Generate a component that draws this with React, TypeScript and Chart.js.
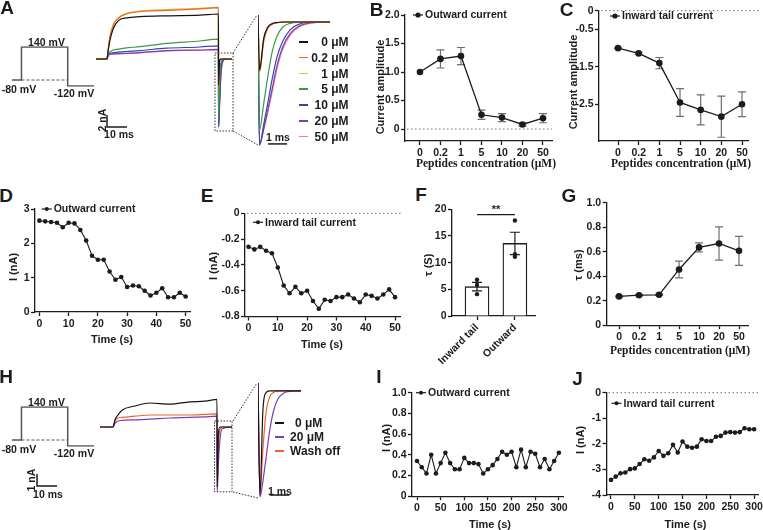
import React, { useEffect, useRef } from "react";
import { Chart, registerables } from "chart.js";

Chart.register(...registerables);

const SANS = "'Liberation Sans', Arial, Helvetica, sans-serif";
const SERIF = "'Liberation Serif', 'Times New Roman', Times, serif";
const INK = "#1c1c1c";

// ---------------- data ----------------
const concLabels = ["0", "0.2", "1", "5", "10", "20", "50"];
const outwardAmp = [1.0, 1.23, 1.28, 0.25, 0.2, 0.08, 0.19];
const outwardAmpErr = [0, 0.16, 0.15, 0.08, 0.07, 0.03, 0.08];
const tailAmp = [-1.0, -1.14, -1.4, -2.45, -2.65, -2.83, -2.5];
const tailAmpErr = [0.01, 0.03, 0.15, 0.37, 0.4, 0.55, 0.33];
const tauTail = [0.235, 0.245, 0.248, 0.455, 0.635, 0.667, 0.607];
const tauTailErr = [0.005, 0.005, 0.005, 0.068, 0.037, 0.136, 0.118];

const timeD = [0, 2, 4, 6, 8, 10, 12, 14, 16, 18, 20, 22, 24, 26, 28, 30, 32, 34, 36, 38, 40, 42, 44, 46, 48, 50];
const outwardD = [2.66, 2.64, 2.62, 2.6, 2.47, 2.6, 2.58, 2.39, 2.08, 1.64, 1.52, 1.52, 1.18, 0.94, 1.02, 0.73, 0.77, 0.75, 0.62, 0.48, 0.56, 0.69, 0.43, 0.43, 0.56, 0.45];
const tailE = [-0.26, -0.28, -0.26, -0.29, -0.31, -0.42, -0.56, -0.62, -0.57, -0.62, -0.6, -0.68, -0.74, -0.67, -0.68, -0.65, -0.65, -0.63, -0.66, -0.69, -0.63, -0.64, -0.66, -0.63, -0.59, -0.65];
const timeTicks50 = [0, 10, 20, 30, 40, 50];

const fCats = ["Inward tail", "Outward"];
const fMeans = [5.5, 13.6];
const fErr = [0.8, 2.1];
const fPtsX = [0, 0, 0, 1, 1, 1];
const fPtsY = [6.8, 5.8, 4.1, 17.9, 11.6, 11.1];
const fSigLevel = 19;
const fSigText = "**";

const timeIJ = [0, 10, 20, 30, 40, 50, 60, 70, 80, 90, 100, 110, 120, 130, 140, 150, 160, 170, 180, 190, 200, 210, 220, 230, 240, 250, 260, 270, 280, 290, 300];
const outwardI = [0.34, 0.28, 0.22, 0.4, 0.22, 0.32, 0.42, 0.32, 0.26, 0.26, 0.37, 0.32, 0.32, 0.31, 0.22, 0.26, 0.3, 0.36, 0.43, 0.4, 0.43, 0.28, 0.45, 0.28, 0.43, 0.41, 0.28, 0.36, 0.26, 0.34, 0.42];
const tailJ = [-3.41, -3.28, -3.15, -3.12, -2.99, -2.96, -2.79, -2.6, -2.66, -2.53, -2.28, -2.47, -2.37, -2.04, -2.34, -1.91, -2.11, -2.15, -2.11, -1.82, -1.89, -1.89, -1.72, -1.69, -1.56, -1.54, -1.56, -1.54, -1.39, -1.43, -1.43];
const timeTicks300 = [0, 50, 100, 150, 200, 250, 300];

// voltage protocol (schematic)
const protoT = [0, 9, 9, 53, 53, 78];
const protoV = [-80, -80, 140, 140, -120, -120];
const holdT = [9, 53];
const holdV = [-80, -80];

// A traces (ms, nA)
const concNamesA = ["0 μM", "0.2 μM", "1 μM", "5 μM", "10 μM", "20 μM", "50 μM"];
const traceT_A = [0, 5.5, 6, 7, 8.7, 11.2, 15.3, 22, 35.3, 52, 61.2, 61.3, 61.8, 62.5, 63.5, 64.5, 68];
const trA_0 = [0, 0, 1.2, 3.2, 5.1, 6.4, 6.85, 7.05, 7.2, 7.3, 7.5, -4.4, -0.2, 0, 0, 0, 0];
const trA_02 = [0, 0, 1.3, 3.7, 5.7, 6.8, 7.5, 7.9, 8.1, 8.35, 8.55, -4.6, -0.25, -0.01, 0, 0, 0];
const trA_1 = [0, 0, 1.3, 3.8, 5.8, 6.9, 7.6, 8.0, 8.25, 8.45, 8.6, -4.5, -0.22, 0, 0, 0, 0];
const trA_5 = [0, 0, 0.9, 1.2, 1.5, 1.65, 1.85, 2.05, 2.6, 3.0, 3.3, -9.9, -4.2, -0.48, -0.02, 0, 0];
const trA_10 = [0, 0, 0.6, 0.95, 1.05, 1.15, 1.25, 1.4, 1.8, 2.0, 2.2, -11.3, -6.8, -1.8, -0.18, -0.02, 0];
const trA_20 = [0, 0, 0.5, 0.8, 0.85, 0.9, 0.95, 1.05, 1.4, 1.5, 1.6, -11.3, -7.5, -2.3, -0.3, -0.05, 0];
const trA_50 = [0, 0, 0.45, 0.75, 0.8, 0.85, 0.9, 1.0, 1.35, 1.45, 1.55, -11.2, -7.8, -2.5, -0.4, -0.07, 0];
const insetT_A = [0, 0.08, 0.3, 0.5, 0.75, 1.0, 1.3, 1.7, 2.2, 2.8, 3.8];
const inA_0 = [0.64, -4.4, -1.5, -0.5, -0.15, -0.05, 0, 0, 0, 0, 0];
const inA_02 = [0.64, -4.6, -1.8, -0.65, -0.2, -0.07, -0.02, 0, 0, 0, 0];
const inA_1 = [0.64, -4.5, -1.6, -0.55, -0.17, -0.05, 0, 0, 0, 0, 0];
const inA_5 = [0.64, -9.9, -7.5, -5.2, -2.7, -1.3, -0.48, -0.12, -0.03, 0, 0];
const inA_10 = [0.64, -11.3, -9.4, -7.6, -5.2, -3.2, -1.8, -0.7, -0.18, -0.02, 0];
const inA_20 = [0.64, -11.3, -9.8, -8.2, -6.1, -4.0, -2.3, -1.05, -0.35, -0.07, 0];
const inA_50 = [0.64, -11.2, -9.9, -8.4, -6.4, -4.3, -2.5, -1.2, -0.42, -0.1, 0];

// H traces
const namesH = ["0 μM", "20 μM", "Wash off"];
const traceT_H = [0, 6.5, 7.5, 9, 11, 17.5, 25, 35, 45, 52.5, 58.5, 58.6, 59.2, 60, 61, 66];
const trH_0 = [0, 0, 0.6, 1.0, 1.4, 1.75, 2.0, 1.9, 2.1, 2.15, 2.3, -5.0, -0.5, 0, 0, 0];
const trH_20 = [0, 0, 0.3, 0.5, 0.55, 0.6, 0.65, 0.75, 0.8, 0.85, 0.9, -5.4, -3.0, -1.0, -0.15, 0];
const trH_w = [0, 0, 0.5, 0.75, 0.8, 0.9, 1.0, 1.0, 1.0, 1.05, 1.1, -5.2, -1.5, -0.2, 0, 0];
const insetT_H = [0, 0.1, 0.25, 0.4, 0.6, 0.8, 1.0, 1.3, 1.7, 2.2];
const inH_0 = [0.4, -5.3, -1.0, -0.1, 0, 0, 0, 0, 0, 0];
const inH_20 = [0.4, -5.4, -4.6, -3.5, -2.0, -1.0, -0.45, -0.12, -0.02, 0];
const inH_w = [0.4, -5.3, -3.0, -1.2, -0.3, -0.08, 0, 0, 0, 0];

// ---------------- styles ----------------
const colorsA = ["#151515", "#f0642a", "#c8cc3c", "#3c9a46", "#3347b0", "#7d3cb5", "#f0808a"];
const colorsH = ["#151515", "#7d3cb5", "#f0642a"];

// ---------------- helpers ----------------
type Pad = { left: number; right: number; top: number; bottom: number };

function baseOptions(pad: Pad, scales: any): any {
  return {
    responsive: false,
    maintainAspectRatio: false,
    animation: false,
    devicePixelRatio: 1,
    events: [],
    layout: { padding: pad },
    plugins: { legend: { display: false }, tooltip: { enabled: false } },
    scales,
  };
}

type AxisOpt = {
  min: number;
  max: number;
  ticks: number[];
  fmt: (v: number) => string;
  size: number;
  horizontal: boolean;
  rotate?: number;
};

function axis(o: AxisOpt): any {
  return {
    type: "linear",
    min: o.min,
    max: o.max,
    offset: false,
    afterBuildTicks: (s: any) => {
      s.ticks = o.ticks.map((v) => ({ value: v }));
    },
    afterFit: (s: any) => {
      if (o.horizontal) {
        s.height = o.size;
        s.paddingLeft = 0;
        s.paddingRight = 0;
      } else {
        s.width = o.size;
        s.paddingTop = 0;
        s.paddingBottom = 0;
      }
    },
    grid: {
      display: true,
      offset: false,
      drawOnChartArea: false,
      drawTicks: true,
      tickLength: 4,
      tickColor: INK,
      tickWidth: 1.3,
      color: INK,
    },
    border: { display: true, color: INK, width: 1.3 },
    ticks: {
      autoSkip: false,
      maxRotation: o.rotate ?? 0,
      minRotation: o.rotate ?? 0,
      padding: 1.5,
      color: INK,
      font: { family: SANS, size: 10.5, weight: "bold" },
      callback: (v: any) => o.fmt(Number(v)),
    },
  };
}

const fmtDec = (v: number) => (v === 0 ? "0" : v.toFixed(1));
const fmtInt = (v: number) => String(v);
const idx = (arr: any[]) => arr.map((_, i) => i);

function pointDS(label: string, xs: number[], ys: number[], r: number, lw: number): any {
  return {
    label,
    data: xs.map((x, i) => ({ x, y: ys[i] })),
    borderColor: INK,
    backgroundColor: INK,
    pointBackgroundColor: INK,
    pointBorderWidth: 0,
    borderWidth: lw,
    pointRadius: r,
    tension: 0,
    fill: false,
  };
}

function zeroLine(ext: number): any {
  return {
    id: "zeroLine",
    beforeDatasetsDraw(c: any) {
      const { ctx, chartArea: a } = c;
      const y = c.scales.y.getPixelForValue(0);
      ctx.save();
      ctx.strokeStyle = "#6a6a6a";
      ctx.lineWidth = 1;
      ctx.setLineDash([1.5, 2.5]);
      ctx.beginPath();
      ctx.moveTo(a.left + 2, y);
      ctx.lineTo(a.right + ext, y);
      ctx.stroke();
      ctx.restore();
    },
  };
}

function errorBars(xs: number[], means: number[], errs: number[], cap: number, color: string, after: boolean): any {
  const draw = (c: any) => {
    const { ctx } = c;
    const sx = c.scales.x;
    const sy = c.scales.y;
    ctx.save();
    ctx.strokeStyle = color;
    ctx.lineWidth = 1.2;
    ctx.setLineDash([]);
    xs.forEach((x, i) => {
      if (!errs[i]) return;
      const px = sx.getPixelForValue(x);
      const y1 = sy.getPixelForValue(means[i] + errs[i]);
      const y2 = sy.getPixelForValue(means[i] - errs[i]);
      ctx.beginPath();
      ctx.moveTo(px, y1);
      ctx.lineTo(px, y2);
      ctx.moveTo(px - cap, y1);
      ctx.lineTo(px + cap, y1);
      ctx.moveTo(px - cap, y2);
      ctx.lineTo(px + cap, y2);
      ctx.stroke();
    });
    ctx.restore();
  };
  return after ? { id: "errorBars", afterDatasetsDraw: draw } : { id: "errorBars", beforeDatasetsDraw: draw };
}

function inLegend(dx: number, dy: number, r: number): any {
  return {
    id: "inLegend",
    afterDraw(c: any) {
      const { ctx, chartArea: a } = c;
      const label = c.data.datasets[0].label;
      const x0 = a.left + dx;
      const y = a.top + dy;
      ctx.save();
      ctx.strokeStyle = INK;
      ctx.fillStyle = INK;
      ctx.lineWidth = 1.2;
      ctx.beginPath();
      ctx.moveTo(x0, y);
      ctx.lineTo(x0 + 10, y);
      ctx.stroke();
      ctx.beginPath();
      ctx.arc(x0 + 5, y, r, 0, Math.PI * 2);
      ctx.fill();
      ctx.font = `bold 10.5px ${SANS}`;
      ctx.textBaseline = "middle";
      ctx.textAlign = "left";
      ctx.fillText(label, x0 + 12, y + 0.5);
      ctx.restore();
    },
  };
}

function sigBar(x0: number, x1: number, level: number, text: string): any {
  return {
    id: "sigBar",
    afterDatasetsDraw(c: any) {
      const { ctx } = c;
      const px0 = c.scales.x.getPixelForValue(x0);
      const px1 = c.scales.x.getPixelForValue(x1);
      const py = c.scales.y.getPixelForValue(level);
      ctx.save();
      ctx.strokeStyle = INK;
      ctx.lineWidth = 1.2;
      ctx.beginPath();
      ctx.moveTo(px0, py);
      ctx.lineTo(px1, py);
      ctx.stroke();
      ctx.fillStyle = INK;
      ctx.font = `bold 11px ${SANS}`;
      ctx.textAlign = "center";
      ctx.textBaseline = "bottom";
      ctx.fillText(text, (px0 + px1) / 2, py + 1);
      ctx.restore();
    },
  };
}

function dottedBox(t0: number, t1: number, v0: number, v1: number): any {
  return {
    id: "dottedBox",
    afterDatasetsDraw(c: any) {
      const { ctx } = c;
      const sx = c.scales.x;
      const sy = c.scales.y;
      const x0 = sx.getPixelForValue(t0);
      const x1 = sx.getPixelForValue(t1);
      const y0 = sy.getPixelForValue(v0);
      const y1 = sy.getPixelForValue(v1);
      ctx.save();
      ctx.strokeStyle = "#333";
      ctx.lineWidth = 1;
      ctx.setLineDash([1.5, 1.5]);
      ctx.strokeRect(Math.min(x0, x1), Math.min(y0, y1), Math.abs(x1 - x0), Math.abs(y1 - y0));
      ctx.restore();
    },
  };
}

function scaleBar(t0: number, v0: number, dt: number, dv: number): any {
  return {
    id: "scaleBar",
    afterDatasetsDraw(c: any) {
      const { ctx } = c;
      const sx = c.scales.x;
      const sy = c.scales.y;
      const x0 = sx.getPixelForValue(t0);
      const y0 = sy.getPixelForValue(v0);
      ctx.save();
      ctx.strokeStyle = INK;
      ctx.lineWidth = 1.5;
      ctx.beginPath();
      if (dv) {
        ctx.moveTo(x0, sy.getPixelForValue(v0 + dv));
        ctx.lineTo(x0, y0);
      } else {
        ctx.moveTo(x0, y0);
      }
      ctx.lineTo(sx.getPixelForValue(t0 + dt), y0);
      ctx.stroke();
      ctx.restore();
    },
  };
}

function connectors(segs: number[][]): any {
  return {
    id: "connectors",
    afterDraw(c: any) {
      const { ctx } = c;
      ctx.save();
      ctx.strokeStyle = "#333";
      ctx.lineWidth = 1;
      ctx.setLineDash([1.5, 1.5]);
      segs.forEach((s) => {
        ctx.beginPath();
        ctx.moveTo(s[0], s[1]);
        ctx.lineTo(s[2], s[3]);
        ctx.stroke();
      });
      ctx.restore();
    },
  };
}

function traceConfig(T: number[], series: number[][], colors: string[], xr: number[], yr: number[], pad: Pad, plugins: any[]): any {
  return {
    type: "line",
    data: {
      datasets: series.map((ys, k) => ({
        data: T.map((t, i) => ({ x: t, y: ys[i] })),
        borderColor: colors[k],
        borderWidth: 1.2,
        pointRadius: 0,
        cubicInterpolationMode: "monotone",
        fill: false,
      })),
    },
    options: baseOptions(pad, {
      x: { type: "linear", display: false, min: xr[0], max: xr[1] },
      y: { type: "linear", display: false, min: yr[0], max: yr[1] },
    }),
    plugins,
  };
}

function protocolConfig(pad: Pad): any {
  return {
    type: "line",
    data: {
      datasets: [
        {
          data: protoT.map((t, i) => ({ x: t, y: protoV[i] })),
          borderColor: "#555",
          borderWidth: 1.5,
          pointRadius: 0,
          tension: 0,
          fill: false,
        },
        {
          data: holdT.map((t, i) => ({ x: t, y: holdV[i] })),
          borderColor: "#555",
          borderWidth: 1.2,
          borderDash: [3, 2],
          pointRadius: 0,
          tension: 0,
          fill: false,
        },
      ],
    },
    options: baseOptions(pad, {
      x: { type: "linear", display: false, min: 0, max: 78 },
      y: { type: "linear", display: false, min: -125, max: 145 },
    }),
  };
}

// ---------------- components ----------------
function ChartBox({ x, y, w, h, make }: { x: number; y: number; w: number; h: number; make: () => any }) {
  const ref = useRef<HTMLCanvasElement>(null);
  useEffect(() => {
    const chart = new Chart(ref.current as HTMLCanvasElement, make());
    return () => chart.destroy();
  }, []);
  return (
    <canvas
      ref={ref}
      width={w}
      height={h}
      style={{ position: "absolute", left: x, top: y, width: w, height: h }}
    />
  );
}

function Txt({
  x,
  y,
  children,
  size = 10.5,
  rot = 0,
  align = "center",
  family = SANS,
  weight = "bold",
  color = INK,
}: {
  x: number;
  y: number;
  children: any;
  size?: number;
  rot?: number;
  align?: "center" | "left" | "right";
  family?: string;
  weight?: string;
  color?: string;
}) {
  const tx = align === "center" ? "-50%" : align === "left" ? "0" : "-100%";
  return (
    <div
      style={{
        position: "absolute",
        left: x,
        top: y,
        transform: `translate(${tx}, -50%) rotate(${rot}deg)`,
        whiteSpace: "nowrap",
        fontFamily: family,
        fontWeight: weight as any,
        fontSize: size,
        lineHeight: 1,
        color,
        zIndex: 2,
      }}
    >
      {children}
    </div>
  );
}

// ---------------- chart factories ----------------
const makeB = () => ({
  type: "line",
  data: { datasets: [pointDS("Outward current", idx(concLabels), outwardAmp, 3.3, 1.3)] },
  options: baseOptions(
    { left: 0, top: 10, right: 10, bottom: 0 },
    {
      x: axis({ horizontal: true, min: -0.73, max: 6.44, ticks: idx(concLabels), fmt: (v) => concLabels[v], size: 20 }),
      y: axis({ horizontal: false, min: -0.21, max: 2.0, ticks: [0, 0.5, 1, 1.5, 2], fmt: fmtDec, size: 25 }),
    }
  ),
  plugins: [zeroLine(0), errorBars(idx(concLabels), outwardAmp, outwardAmpErr, 4, "#6e6e6e", false), inLegend(8, 0, 2.6)],
});

const makeC = () => ({
  type: "line",
  data: { datasets: [pointDS("Inward tail current", idx(concLabels), tailAmp, 3.3, 1.3)] },
  options: baseOptions(
    { left: 0, top: 9.7, right: 15, bottom: 0 },
    {
      x: axis({ horizontal: true, min: -0.92, max: 6.29, ticks: idx(concLabels), fmt: (v) => concLabels[v], size: 20 }),
      y: axis({ horizontal: false, min: -3.48, max: 0, ticks: [0, -0.5, -1.5, -2.5], fmt: fmtDec, size: 27 }),
    }
  ),
  plugins: [zeroLine(12), errorBars(idx(concLabels), tailAmp, tailAmpErr, 4, "#6e6e6e", false), inLegend(11, 5.3, 2.6)],
});

const makeD = () => ({
  type: "line",
  data: { datasets: [pointDS("Outward current", timeD, outwardD, 2.3, 1.1)] },
  options: baseOptions(
    { left: 0, top: 9, right: 10, bottom: 0 },
    {
      x: axis({ horizontal: true, min: -1.5, max: 51.5, ticks: timeTicks50, fmt: fmtInt, size: 20 }),
      y: axis({ horizontal: false, min: 0, max: 3, ticks: [0, 1, 2, 3], fmt: fmtInt, size: 20 }),
    }
  ),
  plugins: [inLegend(6.7, 0, 2)],
});

const makeE = () => ({
  type: "line",
  data: { datasets: [pointDS("Inward tail current", timeD, tailE, 2.3, 1.1)] },
  options: baseOptions(
    { left: 0, top: 9.3, right: 10, bottom: 0 },
    {
      x: axis({ horizontal: true, min: -1.2, max: 51.7, ticks: timeTicks50, fmt: fmtInt, size: 20.5 }),
      y: axis({ horizontal: false, min: -0.8, max: 0, ticks: [0, -0.2, -0.4, -0.6, -0.8], fmt: fmtDec, size: 25 }),
    }
  ),
  plugins: [zeroLine(2), inLegend(8, 9, 2)],
});

const makeF = () => ({
  type: "bar",
  data: {
    datasets: [
      {
        type: "scatter",
        data: fPtsX.map((x, i) => ({ x, y: fPtsY[i] })),
        pointRadius: 2.2,
        pointBorderWidth: 0,
        pointBackgroundColor: INK,
        backgroundColor: INK,
      },
      {
        type: "bar",
        data: fMeans.map((v, i) => ({ x: i, y: v })),
        backgroundColor: "#ffffff",
        borderColor: INK,
        borderWidth: 1.3,
        barThickness: 24,
      },
    ],
  },
  options: baseOptions(
    { left: 0, top: 9.3, right: 10, bottom: 0 },
    {
      x: axis({ horizontal: true, min: -0.66, max: 1.53, ticks: idx(fCats), fmt: (v) => fCats[v], size: 50, rotate: 45 }),
      y: axis({ horizontal: false, min: 0, max: 20, ticks: [0, 5, 10, 15, 20], fmt: fmtInt, size: 22 }),
    }
  ),
  plugins: [errorBars(idx(fCats), fMeans, fErr, 5, INK, true), sigBar(0, 1, fSigLevel, fSigText)],
});

const makeG = () => ({
  type: "line",
  data: { datasets: [pointDS("tau", idx(concLabels), tauTail, 3.3, 1.3)] },
  options: baseOptions(
    { left: 0, top: 8.7, right: 10, bottom: 0 },
    {
      x: axis({ horizontal: true, min: -0.62, max: 6.45, ticks: idx(concLabels), fmt: (v) => concLabels[v], size: 21.8 }),
      y: axis({ horizontal: false, min: 0, max: 1, ticks: [0, 0.2, 0.4, 0.6, 0.8, 1.0], fmt: fmtDec, size: 24.7 }),
    }
  ),
  plugins: [errorBars(idx(concLabels), tauTail, tauTailErr, 4, "#6e6e6e", false)],
});

const makeI = () => ({
  type: "line",
  data: { datasets: [pointDS("Outward current", timeIJ, outwardI, 2.3, 1.1)] },
  options: baseOptions(
    { left: 0, top: 8.7, right: 10, bottom: 0 },
    {
      x: axis({ horizontal: true, min: -10.6, max: 308.7, ticks: timeTicks300, fmt: fmtInt, size: 21.8 }),
      y: axis({ horizontal: false, min: 0, max: 1, ticks: [0, 0.2, 0.4, 0.6, 0.8, 1.0], fmt: fmtDec, size: 22 }),
    }
  ),
  plugins: [inLegend(4, 0, 2)],
});

const makeJ = () => ({
  type: "line",
  data: { datasets: [pointDS("Inward tail current", timeIJ, tailJ, 2.3, 1.1)] },
  options: baseOptions(
    { left: 0, top: 8.7, right: 5, bottom: 0 },
    {
      x: axis({ horizontal: true, min: -9.4, max: 308.2, ticks: timeTicks300, fmt: fmtInt, size: 22 }),
      y: axis({ horizontal: false, min: -4, max: 0, ticks: [0, -1, -2, -3, -4], fmt: fmtInt, size: 21.5 }),
    }
  ),
  plugins: [zeroLine(0), inLegend(5, 10.6, 2)],
});

const makeTraceA = () =>
  traceConfig(
    traceT_A,
    [trA_0, trA_02, trA_1, trA_5, trA_10, trA_20, trA_50],
    colorsA,
    [0, 68],
    [-12, 9.5],
    { left: 6, right: 8, top: 2, bottom: 9 },
    [dottedBox(59.5, 68.5, 1.0, -12), scaleBar(5.5, -11.33, 10, 2)]
  );

const makeInsetA = () =>
  traceConfig(
    insetT_A,
    [inA_0, inA_02, inA_1, inA_5, inA_10, inA_20, inA_50],
    colorsA,
    [0, 3.79],
    [-11.38, 0.642],
    { left: 27, right: 13, top: 15, bottom: 4 },
    [
      scaleBar(0.53, -11.19, 1, 0),
      connectors([
        [2, 53, 26, 15],
        [2, 131, 27, 145],
      ]),
    ]
  );

// H trace canvas spans from x=20 so the scale bar (left, below protocol) is drawn by the same scales
const makeTraceH = () =>
  traceConfig(
    traceT_H,
    [trH_0, trH_20, trH_w],
    colorsH,
    [0, 66],
    [-5.83, 3.5],
    { left: 80, right: 8, top: 7, bottom: 6 },
    [dottedBox(57.25, 66, 0.5, -5.4), scaleBar(-31.5, -4.92, 10, 1)]
  );

const makeInsetH = () =>
  traceConfig(
    insetT_H,
    [inH_0, inH_20, inH_w],
    colorsH,
    [0, 2.2],
    [-5.45, 0.4],
    { left: 27, right: 10, top: 5, bottom: 5 },
    [
      scaleBar(0.6, -5.3, 1, 0),
      connectors([
        [2, 43, 26, 5],
        [2, 114, 27, 120],
      ]),
    ]
  );

const makeProtoA = () => protocolConfig({ left: 8, right: 4, top: 8.25, bottom: 7.25 });

// ---------------- app ----------------
export default function App() {
  const letter = (ch: string, x: number, y: number) => (
    <Txt x={x} y={y} size={19}>
      {ch}
    </Txt>
  );
  return (
    <div
      style={{
        position: "absolute",
        left: 0,
        top: 0,
        width: 763,
        height: 530,
        background: "#ffffff",
        overflow: "hidden",
      }}
    >
      {/* Panel A */}
      <ChartBox x={4} y={38} w={94} h={56} make={makeProtoA} />
      <ChartBox x={90} y={0} w={150} h={140} make={makeTraceA} />
      <ChartBox x={231} y={0} w={112} h={150} make={makeInsetA} />
      <Txt x={46.5} y={42}>140 mV</Txt>
      <Txt x={19} y={89}>-80 mV</Txt>
      <Txt x={74} y={92.5}>-120 mV</Txt>
      <Txt x={101.5} y={120} rot={-90}>2 nA</Txt>
      <Txt x={119} y={133.5}>10 ms</Txt>
      <Txt x={278} y={136.5}>1 ms</Txt>
      {concNamesA.map((n, i) => (
        <React.Fragment key={n}>
          <div
            style={{
              position: "absolute",
              left: 299,
              top: 41 + i * 15.8,
              width: 9,
              height: 1.6,
              background: colorsA[i],
            }}
          />
          <Txt x={348.5} y={42 + i * 15.8} size={12} align="right">
            {n}
          </Txt>
        </React.Fragment>
      ))}

      {/* Panel B */}
      <ChartBox x={380} y={5} w={182} h={156} make={makeB} />
      <Txt x={380} y={87} rot={-90} size={11}>Current amplitude</Txt>
      <Txt x={486} y={164} size={11.5} family={SERIF}>Peptides concentration (μM)</Txt>

      {/* Panel C */}
      <ChartBox x={572} y={1} w={191} h={160} make={makeC} />
      <Txt x={572.5} y={82} rot={-90} size={11}>Current amplitude</Txt>
      <Txt x={681} y={164} size={11.5} family={SERIF}>Peptides concentration (μM)</Txt>

      {/* Panel D */}
      <ChartBox x={15} y={200} w={185} h={132} make={makeD} />
      <Txt x={12.5} y={267} rot={-90} size={11}>I (nA)</Txt>
      <Txt x={112} y={339} size={11}>Time (s)</Txt>

      {/* Panel E */}
      <ChartBox x={220} y={204} w={190} h={133} make={makeE} />
      <Txt x={213} y={266} rot={-90} size={11}>I (nA)</Txt>
      <Txt x={322} y={344} size={11}>Time (s)</Txt>

      {/* Panel F */}
      <ChartBox x={430} y={200} w={115} h={166} make={makeF} />
      <Txt x={428} y={265} rot={-90} size={11}>τ (S)</Txt>

      {/* Panel G */}
      <ChartBox x={582} y={194} w={176} h={153} make={makeG} />
      <Txt x={578} y={265} rot={-90} size={11}>τ (ms)</Txt>
      <Txt x={680} y={351} size={11.5} family={SERIF}>Peptides concentration (μM)</Txt>

      {/* Panel H */}
      <ChartBox x={4} y={398} w={94} h={56} make={makeProtoA} />
      <ChartBox x={20} y={378} w={220} h={125} make={makeTraceH} />
      <ChartBox x={231} y={378} w={80} h={125} make={makeInsetH} />
      <Txt x={46.5} y={402}>140 mV</Txt>
      <Txt x={19} y={449}>-80 mV</Txt>
      <Txt x={74} y={452.5}>-120 mV</Txt>
      <Txt x={30.5} y={480} rot={-90}>1 nA</Txt>
      <Txt x={48} y={494}>10 ms</Txt>
      <Txt x={280} y={491}>1 ms</Txt>
      {namesH.map((n, i) => (
        <React.Fragment key={n}>
          <div
            style={{
              position: "absolute",
              left: 275,
              top: 422 + i * 14,
              width: 9,
              height: 1.6,
              background: colorsH[i],
            }}
          />
          <Txt x={i === 0 ? 295 : 290} y={423 + i * 14} size={12} align="left">
            {n}
          </Txt>
        </React.Fragment>
      ))}

      {/* Panel I */}
      <ChartBox x={390} y={384} w={183} h={134} make={makeI} />
      <Txt x={386} y={438} rot={-90} size={11}>I (nA)</Txt>
      <Txt x={490} y={524} size={11}>Time (s)</Txt>

      {/* Panel J */}
      <ChartBox x={585} y={384} w={178} h={133} make={makeJ} />
      <Txt x={580} y={440} rot={-90} size={11}>I (nA)</Txt>
      <Txt x={685.5} y={524} size={11}>Time (s)</Txt>

      {letter("A", 7, 7)}
      {letter("B", 376.5, 9)}
      {letter("C", 566.5, 9)}
      {letter("D", 6, 195)}
      {letter("E", 207, 195)}
      {letter("F", 421, 194)}
      {letter("G", 569, 195)}
      {letter("H", 6, 376)}
      {letter("I", 379, 376)}
      {letter("J", 577.5, 378)}
    </div>
  );
}
